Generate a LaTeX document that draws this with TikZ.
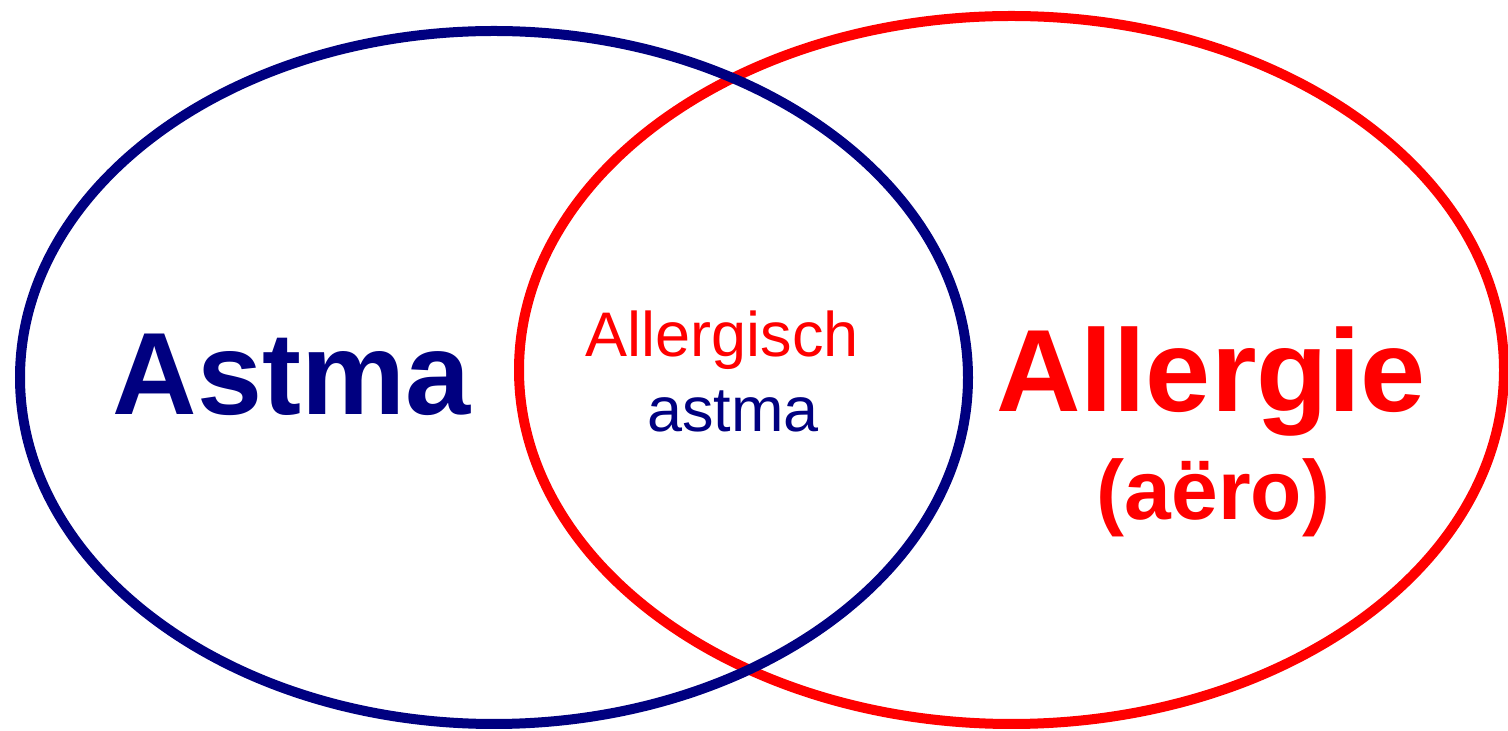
\documentclass[tikz,border=0pt]{standalone}
\usepackage{fontspec}
\setmainfont{Liberation Sans}
\definecolor{navyblue}{RGB}{0,0,128}
\definecolor{pured}{RGB}{255,0,0}
\begin{document}
\begin{tikzpicture}[x=1pt,y=1pt,
  ring/.style={line width=10pt},
  bigbold/.style={font=\fontsize{117}{117}\selectfont\bfseries,inner sep=0pt,anchor=base},
  midbold/.style={font=\fontsize{84}{84}\selectfont\bfseries,inner sep=0pt,anchor=base},
  small/.style={font=\fontsize{63}{63}\selectfont,inner sep=0pt,anchor=base}]
\useasboundingbox (0,0) rectangle (1508,731);
% red ellipse (underneath)
\draw[ring,pured] (1011.5,361) ellipse [x radius=492.5, y radius=354];
% blue ellipse (on top)
\draw[ring,navyblue] (494,353.5) ellipse [x radius=474, y radius=346.5];
\node[bigbold,text=navyblue] (astma) at (291.5,316) {Astma};
\node[bigbold,text=pured] (allergie) at (1211,319) {Allergie};
\node[midbold,text=pured] (aero) at (1213.5,211) {(aëro)};
\node[small,text=pured] (allergisch) at (722.5,374) {Allergisch};
\node[small,text=navyblue] (astmasmall) at (733,299) {astma};
\end{tikzpicture}
\end{document}
